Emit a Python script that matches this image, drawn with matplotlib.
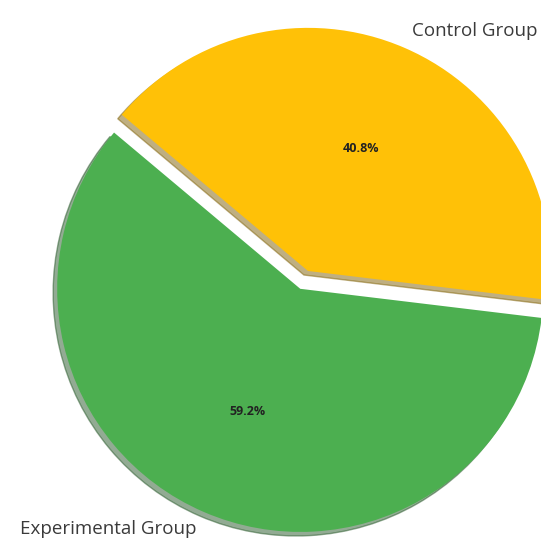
import matplotlib.pyplot as plt

# pie data
groups = ["Control Group", "Experimental Group"]
shares = [40.8, 59.2]
colors = ["#FFC107", "#4CAF50"]
explode = [0.08, 0]

plt.rcParams['font.family'] = ['Open Sans', 'DejaVu Sans']

fig = plt.figure(figsize=(5.41, 5.38), dpi=100)
ax = fig.add_axes([0, 0, 1, 1])

wedges, texts, pcts = ax.pie(shares, labels=groups, colors=colors, explode=explode,
                             autopct='%1.1f%%', pctdistance=0.55, labeldistance=1.075,
                             shadow={'ox': -0.012, 'oy': -0.012, 'shade': 0.5},
                             startangle=140, counterclock=False,
                             textprops={'fontsize': 13.5, 'color': '#3a3a3a'})
for t in pcts:
    t.set_fontsize(9)
    t.set_fontweight('bold')
    t.set_color('#222222')

ax.set_xlim(-1.235, 0.99)
ax.set_ylim(-1.025, 1.188)
ax.set_aspect('equal')
ax.axis('off')

fig.savefig("out.png", dpi=100)
